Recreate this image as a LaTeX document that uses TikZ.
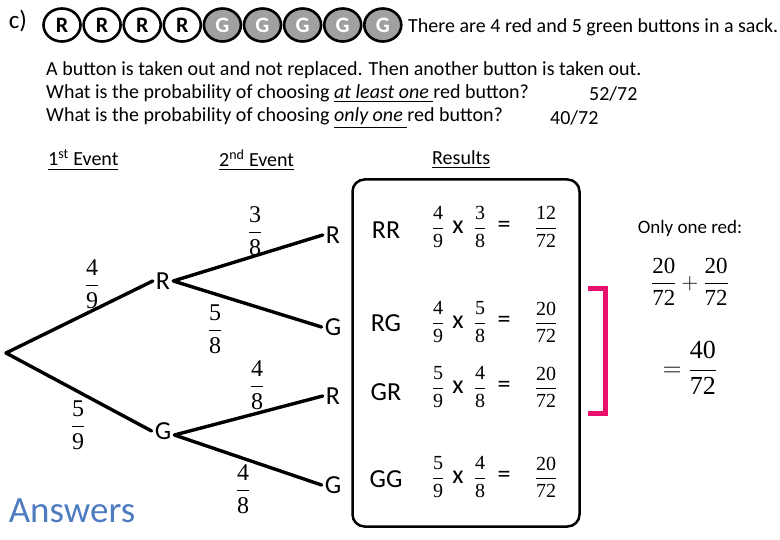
\RequirePackage{fix-cm}
\documentclass[tikz,border=0pt]{standalone}
\usepackage{amsmath}
\usepackage{fontspec}
\setmainfont{Carlito}
\newfontfamily\digfont{Liberation Serif}
\usetikzlibrary{shapes.geometric}
\definecolor{pinkbr}{HTML}{E8106A}
\definecolor{ansblue}{HTML}{4F7CC0}
\definecolor{btngray}{HTML}{A0A0A0}
\newcommand{\fr}[2]{\dfrac{\text{\digfont #1}}{\text{\digfont #2}}}
\begin{document}
\begin{tikzpicture}[x=1pt,y=-1pt,
  btn/.style={ellipse,draw=black,line width=2.6pt,minimum width=37pt,minimum height=33pt,inner sep=0pt,font=\fontsize{22}{22}\selectfont\bfseries},
  rbtn/.style={btn,fill=white},
  gbtn/.style={btn,fill=btngray,text=white},
  txt/.style={anchor=west,inner sep=0pt,font=\fontsize{20}{24}\selectfont},
  lbl/.style={inner sep=3pt,font=\fontsize{26}{26}\selectfont},
  tfrac/.style={inner sep=0pt,font=\fontsize{24}{24}\selectfont},
  rfrac/.style={inner sep=0pt,font=\fontsize{20}{20}\selectfont},
  rtxt/.style={inner sep=0pt,font=\fontsize{26}{26}\selectfont},
  branch/.style={line width=3.4pt,line cap=round}
]
\useasboundingbox (0,0) rectangle (780,540);

% buttons
\node[inner sep=0pt,font=\fontsize{25}{25}\selectfont] (c) at (18,21) {c)};
\foreach \i/\t/\s in {0/R/rbtn,1/R/rbtn,2/R/rbtn,3/R/rbtn,4/G/gbtn,5/G/gbtn,6/G/gbtn,7/G/gbtn,8/G/gbtn}{
  \node[\s] (b\i) at ({62+40.1*\i},25) {\t};
}
\node[txt] (t0) at (408,27) {There are 4 red and 5 green buttons in a sack.};

\node[txt] (t1) at (46,70) {A button is taken out and not replaced. Then another button is taken out.};
\node[txt] (t2) at (46,94) {What is the probability of choosing \underline{\textit{at least one }}red button?};
\node[txt] (t2a) at (589,94) {52/72};
\node[txt] (t3) at (46,118) {What is the probability of choosing \underline{\textit{only one }}red button?};
\node[txt] (t3a) at (550,118) {40/72};

\node[txt] (h1) at (48,160) {\underline{1\textsuperscript{st} Event}};
\node[txt] (h2) at (219,160) {\underline{2\textsuperscript{nd} Event}};
\node[txt] (h3) at (432,160) {\underline{Results}};

% tree
\coordinate (root) at (6,353);
\node[lbl] (r1) at (163,281) {R};
\node[lbl] (g1) at (163,431) {G};
\node[lbl] (rr) at (333,235) {R};
\node[lbl] (rg) at (333,327) {G};
\node[lbl] (gr) at (333,396) {R};
\node[lbl] (gg) at (333,485) {G};
\draw[branch] (root) -- (r1.west);
\draw[branch] (root) -- (g1.west);
\draw[branch] (r1.east) -- (rr.west);
\draw[branch] (r1.east) -- (rg.west);
\draw[branch] ([yshift=-4pt]g1.east) -- (gr.west);
\draw[branch] ([yshift=-4pt]g1.east) -- (gg.west);

\node[tfrac] (f1) at (92,284) {$\fr{4}{9}$};
\node[tfrac] (f2) at (78,425) {$\fr{5}{9}$};
\node[tfrac] (f3) at (255,231) {$\fr{3}{8}$};
\node[tfrac] (f4) at (215,329) {$\fr{5}{8}$};
\node[tfrac] (f5) at (257,385) {$\fr{4}{8}$};
\node[tfrac] (f6) at (243,489) {$\fr{4}{8}$};

\node[inner sep=0pt,text=ansblue,font=\fontsize{37}{37}\selectfont] (ans) at (72,511) {Answers};

% results box
\node[draw,line width=2.5pt,rounded corners=12pt,minimum width=227pt,minimum height=347pt,inner sep=0pt] (box) at (466,353) {};

\foreach \n/\lab/\a/\b/\c/\d/\res/\y/\ly in {1/RR/4/9/3/8/12/227/230, 2/RG/4/9/5/8/20/322/323, 3/GR/5/9/4/8/20/387/392, 4/GG/5/9/4/8/20/477/479}{
  \node[rtxt] (l\n) at (386,\ly) {\lab};
  \node[rfrac] (pa\n) at (438,\y) {$\fr{\a}{\b}$};
  \node[rtxt] (x\n) at (458,\y) {x};
  \node[rfrac] (pb\n) at (480,\y) {$\fr{\c}{\d}$};
  \node[rtxt] (e\n) at (504,\y) {=};
  \node[rfrac] (p\n) at (546,\y) {$\fr{\res}{72}$};
}

% bracket
\draw[pinkbr,line width=5pt,line join=miter] (588,289) -- (605,289) -- (605,413) -- (588,413);

% only one red
\node[inner sep=0pt,font=\fontsize{19}{19}\selectfont] (o1) at (690,228) {Only one red:};
\node[inner sep=0pt,font=\fontsize{23}{23}\selectfont] (o2) at (690,282) {$\fr{20}{72}+\fr{20}{72}$};
\node[inner sep=0pt,font=\fontsize{26}{26}\selectfont] (o3) at (690,368) {$=\fr{40}{72}$};
\end{tikzpicture}
\end{document}
